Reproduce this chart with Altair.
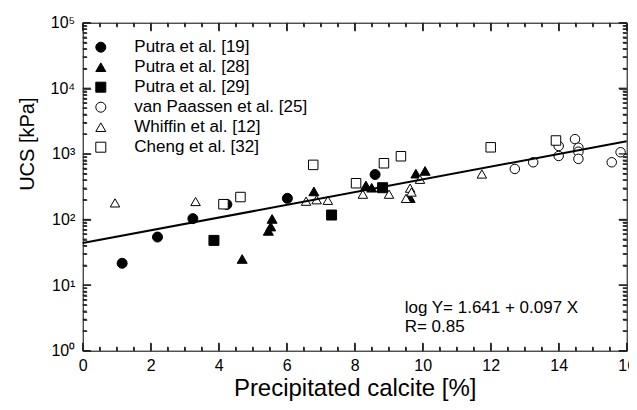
import altair as alt
import pandas as pd

# ---------------- data ----------------
series_names = ["Putra et al. [19]", "Putra et al. [28]", "Putra et al. [29]",
                "van Paassen et al. [25]", "Whiffin et al. [12]", "Cheng et al. [32]"]
series_shapes = ["circle", "triangle-up", "square", "circle", "triangle-up", "square"]
series_fills = ["black", "black", "black", "white", "white", "white"]

putra19_x = [1.16, 2.2, 3.24, 4.24, 6.02, 8.6]
putra19_y = [21.5, 54, 103, 170, 210, 485]

putra28_x = [4.69, 5.46, 5.53, 5.57, 6.80, 8.33, 8.5, 9.63, 9.8, 10.07]
putra28_y = [25, 67, 78, 102, 268, 330, 305, 212, 500, 550]

putra29_x = [3.86, 7.32, 8.82]
putra29_y = [48, 117, 305]

paassen_x = [12.71, 13.25, 14.0, 14.0, 14.48, 14.58, 14.58, 14.58, 15.56, 15.82]
paassen_y = [590, 745, 1320, 930, 1680, 1240, 1080, 840, 745, 1060]

whiffin_x = [0.95, 3.32, 6.57, 6.88, 7.21, 8.24, 9.01, 9.51, 9.63, 9.67, 9.92, 11.74]
whiffin_y = [179, 188, 190, 200, 196, 243, 243, 210, 300, 262, 410, 494]

cheng_x = [4.14, 4.64, 6.78, 8.04, 8.86, 9.36, 12.0, 13.92]
cheng_y = [171, 220, 680, 357, 720, 920, 1260, 1600]

series_x = [putra19_x, putra28_x, putra29_x, paassen_x, whiffin_x, cheng_x]
series_y = [putra19_y, putra28_y, putra29_y, paassen_y, whiffin_y, cheng_y]

fit_intercept = 1.641
fit_slope = 0.097
fit_r = 0.85
x_range = [0, 16]
y_range = [1, 100000]

x_labels = [0, 2, 4, 6, 8, 10, 12, 14, 16]
x_minor = [0.5, 1, 1.5, 2.5, 3, 3.5, 4.5, 5, 5.5, 6.5, 7, 7.5,
           8.5, 9, 9.5, 10.5, 11, 11.5, 12.5, 13, 13.5, 14.5, 15, 15.5]
y_labels = [1, 10, 100, 1000, 10000, 100000]
y_minor = [m * 10 ** k for k in range(5) for m in range(2, 10)]

# ---------------- chart ----------------
W, H = 544, 328
FONT = "Liberation Sans"
MAJOR, MINOR = 8, 4

xscale = alt.Scale(domain=x_range, nice=False, zero=False)
yscale = alt.Scale(type="log", domain=y_range, nice=False)
shape_scale = alt.Scale(domain=series_names, range=series_shapes)
fill_scale = alt.Scale(domain=series_names, range=series_fills)
stroke_scale = alt.Scale(domain=series_names, range=["black"] * len(series_names))

legend = alt.Legend(orient="none", legendX=9.6, legendY=16, title=None,
                    labelFontSize=17, labelFont=FONT, labelColor="black", labelLimit=400,
                    symbolSize=100, rowPadding=2, labelOffset=25, padding=0,
                    symbolStrokeWidth=1)

y_label_expr = ("'10' + ['\u2070','\u00b9','\u00b2','\u00b3','\u2074','\u2075']"
                "[round(log(datum.value)/LN10)]")

x_label_axis = alt.Axis(orient="bottom", values=x_labels, ticks=False, domain=False, grid=False,
                        labelFontSize=16, labelPadding=7, labelFlush=False, labelOverlap=False,
                        labelColor="black", title="Precipitated calcite [%]", titleFontSize=24,
                        titleFontWeight="normal", titleColor="black",
                        titleBaseline="alphabetic", titleY=45)
y_label_axis = alt.Axis(orient="left", values=y_labels, ticks=False, domain=False, grid=False,
                        labelExpr=y_label_expr, labelFontSize=16, labelPadding=8,
                        labelOverlap=False, labelColor="black", title="UCS [kPa]",
                        titleFontSize=20, titleFontWeight="normal", titleColor="black",
                        titleAngle=-90, titleAlign="center", titleBaseline="middle",
                        titleX=-55, titleY=121)


def tick_axis(orient, values, size):
    # an axis pulled inside the frame by its own tick length -> inward ticks
    return alt.Axis(orient=orient, offset=-size, values=values, labels=False, domain=False,
                    grid=False, title=None, ticks=True, tickSize=size,
                    tickColor="#222222", tickWidth=1.3)


# ---- inward tick marks on all four sides, placed through the chart's scales ----
def side_ticks(values, size, channel, side):
    df = pd.DataFrame({"v": values})
    if channel == "y":
        base = alt.Chart(df).mark_tick(color="#222222", thickness=1.3, size=size,
                                       orient="horizontal", opacity=1)
        centre = size / 2 if side == "left" else W - size / 2
        return base.encode(y=alt.Y("v:Q", scale=yscale, axis=tick_axis(side, values, size)),
                           x=alt.value(centre))
    base = alt.Chart(df).mark_tick(color="#222222", thickness=1.3, size=size,
                                   orient="vertical", opacity=1)
    centre = H - size / 2 if side == "bottom" else size / 2
    return base.encode(x=alt.X("v:Q", scale=xscale, axis=tick_axis(side, values, size)),
                       y=alt.value(centre))


tick_layers = []
for vals, size in [(y_labels, MAJOR), (y_minor, MINOR)]:
    for side in ["left", "right"]:
        tick_layers.append(side_ticks(vals, size, "y", side))
for vals, size in [(x_labels, MAJOR), (x_minor, MINOR)]:
    for side in ["bottom", "top"]:
        tick_layers.append(side_ticks(vals, size, "x", side))

point_layers = []
for i, name in enumerate(series_names):
    df = pd.DataFrame({"x": series_x[i], "y": series_y[i], "series": name})
    point_layers.append(
        alt.Chart(df).mark_point(size=100 if i < 3 else 90, strokeWidth=1, opacity=1).encode(
            x=alt.X("x:Q", scale=xscale, axis=x_label_axis if i == 0 else None),
            y=alt.Y("y:Q", scale=yscale, axis=y_label_axis if i == 0 else None),
            shape=alt.Shape("series:N", scale=shape_scale, legend=legend),
            fill=alt.Fill("series:N", scale=fill_scale, legend=legend),
            stroke=alt.Stroke("series:N", scale=stroke_scale, legend=legend),
        )
    )

line_df = pd.DataFrame({"x": x_range})
fit = alt.Chart(line_df).transform_calculate(
    y=f"pow(10, {fit_intercept} + {fit_slope} * datum.x)"
).mark_line(color="black", strokeWidth=2).encode(
    x=alt.X("x:Q", scale=xscale, axis=None),
    y=alt.Y("y:Q", scale=yscale, axis=None),
)

note_df = pd.DataFrame({"text": [f"log Y= {fit_intercept} + {fit_slope} X\nR= {fit_r}"]})
note = alt.Chart(note_df).mark_text(align="left", baseline="alphabetic", fontSize=17,
                                    font=FONT, color="black", lineBreak="\n",
                                    lineHeight=19).encode(
    x=alt.value(322), y=alt.value(290), text="text:N")

chart = alt.layer(*point_layers, *tick_layers, fit, note).resolve_axis(
    x="independent", y="independent"
).properties(
    width=W, height=H,
    padding={"left": 74.7, "top": 14.7, "right": 2.3, "bottom": 51},
    autosize=alt.AutoSizeParams(type="none"),
).configure(font=FONT).configure_view(stroke="black", strokeWidth=1)

chart.save("out.html", embed_options={"renderer": "svg", "actions": False})
